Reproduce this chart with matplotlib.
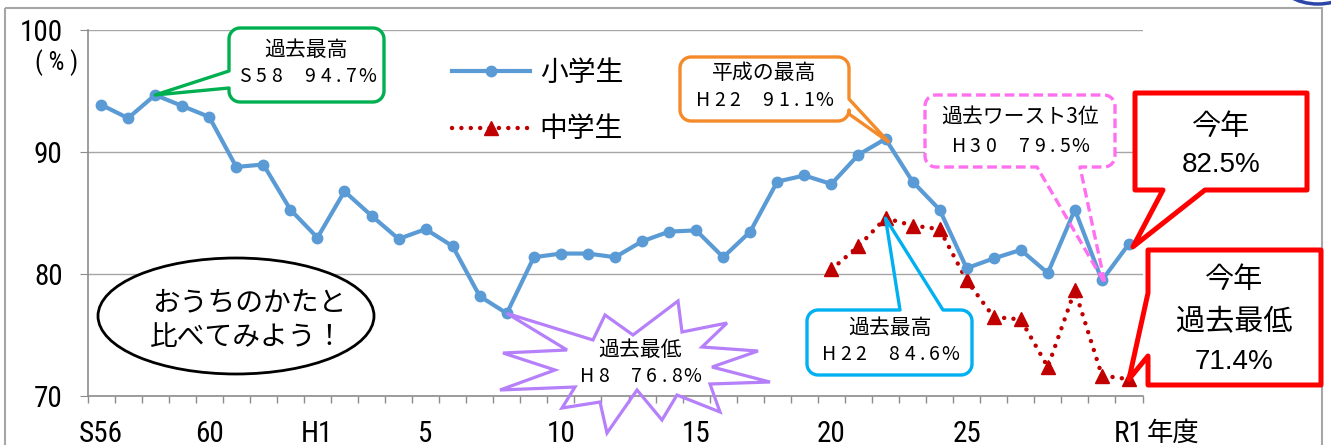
import numpy as np
import matplotlib
matplotlib.use('Agg')
import matplotlib.pyplot as plt
from matplotlib import font_manager
from matplotlib.patches import Polygon, Ellipse, Rectangle

# school years S56 .. R1
years = (['S56', 'S57', 'S58', 'S59', 'S60', 'S61', 'S62', 'S63']
         + ['H%d' % i for i in range(1, 31)] + ['R1'])

# elementary school (%)
elementary = [93.9, 92.8, 94.7, 93.8, 92.9, 88.8, 89.0, 85.3, 83.0, 86.8,
              84.8, 82.9, 83.7, 82.3, 78.2, 76.8, 81.4, 81.7, 81.7, 81.4,
              82.7, 83.5, 83.6, 81.4, 83.5, 87.6, 88.1, 87.4, 89.8, 91.1,
              87.6, 85.3, 80.5, 81.3, 82.0, 80.1, 85.3, 79.5, 82.5]

# junior high school (%), from H20
junior_from = 'H20'
junior = [80.4, 82.3, 84.6, 84.0, 83.7, 79.5, 76.5, 76.3, 72.4, 78.7, 71.7, 71.4]

tick_years = ['S56', 'S60', 'H1', 'H5', 'H10', 'H15', 'H20', 'H25', 'R1']
tick_labels = ['S56', '60', 'H1', '5', '10', '15', '20', '25', 'R1']


def narrow_font():
    fl = font_manager.fontManager.ttflist
    names = {f.name for f in fl}
    for nm in ['Liberation Sans Narrow', 'Roboto Condensed', 'Open Sans Condensed']:
        if nm in names:
            return font_manager.FontProperties(family=nm), 21
    for f in fl:
        if f.name == 'DejaVu Sans' and f.stretch == 'condensed' and f.weight in (400, 'normal'):
            return font_manager.FontProperties(fname=f.fname), 20
    return font_manager.FontProperties(family='Liberation Sans'), 19


num_fp, num_size = narrow_font()
jp = ['Noto Sans CJK JP', 'DejaVu Sans']
plt.rcParams['font.family'] = jp

BLUE = '#5B9BD5'
DRED = '#C00000'
GRAY = '#8C8C8C'

W, H = 1331, 445
fig = plt.figure(figsize=(W / 100, H / 100), dpi=100)
ax = fig.add_axes([87.5 / W, (H - 396.3) / H, 1055 / W, 366 / H])

x = np.arange(len(years))
jx = np.arange(years.index(junior_from), len(years))

red_line, = ax.plot(jx, junior, color=DRED, lw=3.2, ls=(0, (0.01, 2.1)),
                    dash_capstyle='round', marker='^', ms=9.5, mfc=DRED, mec=DRED,
                    zorder=3)
blue_line, = ax.plot(x, elementary, color=BLUE, lw=3, marker='o', ms=7.5,
                     mfc=BLUE, mec=BLUE, zorder=4)

ax.set_xlim(-0.5, len(years) - 0.5)
ax.set_ylim(70, 100)
ax.set_yticks([70, 80, 90, 100])
ax.grid(axis='y', color='#A6A6A6', lw=1)
ax.set_axisbelow(True)
for s in ['top', 'right']:
    ax.spines[s].set_visible(False)
for s in ['left', 'bottom']:
    ax.spines[s].set_color(GRAY)
    ax.spines[s].set_linewidth(1.2)

ax.set_xticks([years.index(t) for t in tick_years])
ax.set_xticklabels(tick_labels)
ax.set_xticks(np.arange(-0.5, len(years)), minor=True)
ax.tick_params(axis='x', which='major', length=0, pad=17)
ax.tick_params(axis='x', which='minor', length=5, color=GRAY, width=1)
ax.tick_params(axis='y', length=6, color=GRAY, pad=12)
for lbl in ax.get_xticklabels() + ax.get_yticklabels():
    lbl.set_fontproperties(num_fp)
    lbl.set_fontsize(num_size)

ax.legend([blue_line, red_line], ['小学生', '中学生'], loc='upper left',
          bbox_to_anchor=(452 / W, 1 - 58 / H), bbox_transform=fig.transFigure,
          frameon=False, prop={'family': jp, 'size': 20}, handlelength=2.8,
          handletextpad=0.36, labelspacing=0.95, borderpad=0, borderaxespad=0,
          numpoints=1)

# overlay in pixel coordinates for the callouts
ov = fig.add_axes([0, 0, 1, 1], zorder=5)
ov.set_xlim(0, W)
ov.set_ylim(H, 0)
ov.axis('off')


def to_px(i, v, dx=0, dy=0):
    X, Y = ax.transData.transform((i, v))
    return X + dx, H - Y + dy


def callout(x0, y0, x1, y1, r, side, b0, b1, tip, color, lw, ls='-', n=10):
    pts, box = [], []

    def arc(cx, cy, a0, a1):
        for a in np.radians(np.linspace(a0, a1, n)):
            p = (cx + r * np.cos(a), cy + r * np.sin(a))
            pts.append(p)
            box.append(p)

    arc(x0 + r, y0 + r, 180, 270)
    if side == 'top':
        pts.extend([(b0, y0), tip, (b1, y0)])
    arc(x1 - r, y0 + r, 270, 360)
    if side == 'right':
        pts.extend([(x1, b0), tip, (x1, b1)])
    arc(x1 - r, y1 - r, 0, 90)
    if side == 'bottom':
        pts.extend([(b1, y1), tip, (b0, y1)])
    arc(x0 + r, y1 - r, 90, 180)
    if side == 'left':
        pts.extend([(x0, b1), tip, (x0, b0)])
    # white body, see-through pointer
    ov.add_patch(Polygon(box, closed=True, fc='white', ec='none'))
    ov.add_patch(Polygon(pts, closed=True, fc='none', ec=color, lw=lw, ls=ls,
                         joinstyle='round'))


def spaced(xc, y, s, size=14, pitch=16):
    widths = [0.6 if c == '.' else 1.1 if c == '　' else 1.0 for c in s]
    pos = xc - sum(widths) * pitch / 2
    for c, w in zip(s, widths):
        if c != '　':
            ov.text(pos + w * pitch / 2, y, c, ha='center', va='center',
                    fontsize=size, family=jp)
        pos += w * pitch


def label(xc, y, s, size=15, family=jp):
    ov.text(xc, y, s, ha='center', va='center', fontsize=size, family=family)


# outer frame
ov.add_patch(Rectangle((5, 8), 1317, 460, fc='none', ec='#A6A6A6', lw=1.5))
# edge of the emblem above the frame
ov.add_patch(Ellipse((1318, -22), 80, 52, fc='none', ec='#2B46A8', lw=2.5))

# (%) unit
ov.text(57, 63, '( % )', ha='center', va='center', fontproperties=num_fp,
        fontsize=num_size - 3)

# "年度" after the last tick label
ov.text(1147, 433, '年度', ha='left', va='center', fontsize=19, family=jp)

# S58 highest
callout(229, 28, 384, 102, 11, 'left', 71, 88, to_px(2, elementary[2]),
        '#00B050', 2.4)
label(306, 50, '過去最高')
spaced(306, 77, 'S58　94.7%')

# H22 highest in Heisei
callout(680, 57, 849, 121, 11, 'right', 99, 114, to_px(29, elementary[29], 3, 3),
        '#F58A2A', 2.4)
label(764, 73, '平成の最高')
spaced(764, 100, 'H22　91.1%', pitch=15.7)

# H30 third worst
callout(925, 95, 1115, 167, 11, 'bottom', 1037, 1080, to_px(37, elementary[37], 3, 3),
        '#FF70F0', 2.4, ls=(0, (2.9, 1.4)))
label(1020, 117, '過去ワースト3位')
spaced(1020, 147, 'H30　79.5%', pitch=15.7)

# junior high H22 highest
callout(807, 310, 972, 375, 11, 'top', 900, 943, to_px(29, junior[2]),
        '#00B0F0', 2.4)
label(890, 328, '過去最高')
spaced(890, 355, 'H22　84.6%', pitch=15.7)

# this year, elementary
callout(1135, 93, 1307, 190, 0, 'bottom', 1163, 1205, to_px(38, elementary[-1], 4, 3),
        '#FF0000', 3.6)
label(1221, 127, '今年', size=21)
label(1221, 165, '%.1f%%' % elementary[-1], size=20, family='Liberation Sans')

# this year, junior high
callout(1148, 250, 1321, 385, 0, 'left', 293, 356, to_px(38, junior[-1]),
        '#FF0000', 3.6)
label(1234, 280, '今年', size=21)
label(1234, 322, '過去最低', size=21)
label(1234, 362, '%.1f%%' % junior[-1], size=20, family='Liberation Sans')

# H8 lowest burst
burst = [to_px(15, elementary[15]), (593, 340), (605, 315), (633, 335), (678, 301),
         (682, 332), (727, 323), (702, 347), (758, 351), (712, 367), (770, 382),
         (710, 384), (720, 412), (677, 395), (662, 420), (637, 390), (607, 433),
         (600, 402), (562, 408), (575, 387), (500, 390), (555, 370), (503, 353),
         (567, 350)]
ov.add_patch(Polygon(burst, closed=True, fc='none', ec='#B580FA', lw=2.3,
                     joinstyle='miter'))
label(640, 350, '過去最低')
spaced(640, 376, 'H8　76.8%', pitch=15.7)

# speech ellipse
ov.add_patch(Ellipse((236, 316), 276, 116, fc='white', ec='black', lw=2))
label(249, 302, 'おうちのかたと', size=20)
label(247, 337, '比べてみよう！', size=20)

fig.savefig('out.png', dpi=100)
